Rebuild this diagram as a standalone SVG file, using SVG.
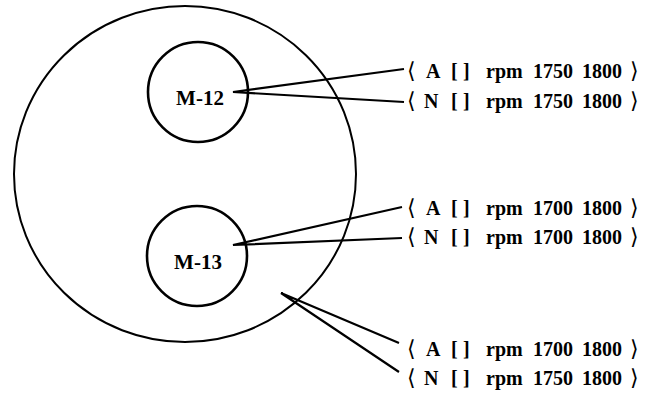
<svg xmlns="http://www.w3.org/2000/svg" width="652" height="398" viewBox="0 0 652 398">
<style>
.c{fill:none;stroke:#000;stroke-width:2}
.ci{fill:none;stroke:#000;stroke-width:2.6}
.l{stroke:#000;stroke-width:2.2;fill:none}
.n{font-family:"Liberation Serif","DejaVu Serif",serif;font-weight:bold;font-size:21px;text-anchor:middle}
.t{font-family:"Liberation Serif","DejaVu Serif",serif;font-weight:bold;font-size:20px}
.b{font-family:"DejaVu Serif",serif;font-weight:normal;font-size:22px}
</style>
<rect width="652" height="398" fill="#fff"/>
<g id="outer"><ellipse class="c" cx="185" cy="174" rx="171" ry="168"/></g>
<g id="m12"><circle class="ci" cx="198" cy="92" r="50"/><text class="n" x="200" y="105">M-12</text></g>
<g id="m13"><circle class="ci" cx="197" cy="256" r="50"/><text class="n" x="198" y="269">M-13</text></g>
<g id="connectors">
<polyline class="l" points="404,69 233,92 404,102"/>
<polyline class="l" points="402,207 233,245 402,238"/>
<polyline class="l" points="399,343 281,293 399,372"/>
</g>
<g id="labels">
<g id="l1"><text class="t" y="78"><tspan class="b" x="407">⟨</tspan><tspan x="426">A</tspan><tspan x="451">[</tspan><tspan x="463">]</tspan><tspan x="486">rpm</tspan><tspan x="533">1750</tspan><tspan x="582">1800</tspan><tspan class="b" x="630">⟩</tspan></text></g>
<g id="l2"><text class="t" y="108"><tspan class="b" x="407">⟨</tspan><tspan x="424">N</tspan><tspan x="451">[</tspan><tspan x="463">]</tspan><tspan x="486">rpm</tspan><tspan x="533">1750</tspan><tspan x="582">1800</tspan><tspan class="b" x="630">⟩</tspan></text></g>
<g id="l3"><text class="t" y="215"><tspan class="b" x="407">⟨</tspan><tspan x="426">A</tspan><tspan x="451">[</tspan><tspan x="463">]</tspan><tspan x="486">rpm</tspan><tspan x="533">1700</tspan><tspan x="582">1800</tspan><tspan class="b" x="630">⟩</tspan></text></g>
<g id="l4"><text class="t" y="244"><tspan class="b" x="407">⟨</tspan><tspan x="424">N</tspan><tspan x="451">[</tspan><tspan x="463">]</tspan><tspan x="486">rpm</tspan><tspan x="533">1700</tspan><tspan x="582">1800</tspan><tspan class="b" x="630">⟩</tspan></text></g>
<g id="l5"><text class="t" y="356"><tspan class="b" x="407">⟨</tspan><tspan x="426">A</tspan><tspan x="451">[</tspan><tspan x="463">]</tspan><tspan x="486">rpm</tspan><tspan x="533">1700</tspan><tspan x="582">1800</tspan><tspan class="b" x="630">⟩</tspan></text></g>
<g id="l6"><text class="t" y="385"><tspan class="b" x="407">⟨</tspan><tspan x="424">N</tspan><tspan x="451">[</tspan><tspan x="463">]</tspan><tspan x="486">rpm</tspan><tspan x="533">1750</tspan><tspan x="582">1800</tspan><tspan class="b" x="630">⟩</tspan></text></g>
</g>
</svg>
